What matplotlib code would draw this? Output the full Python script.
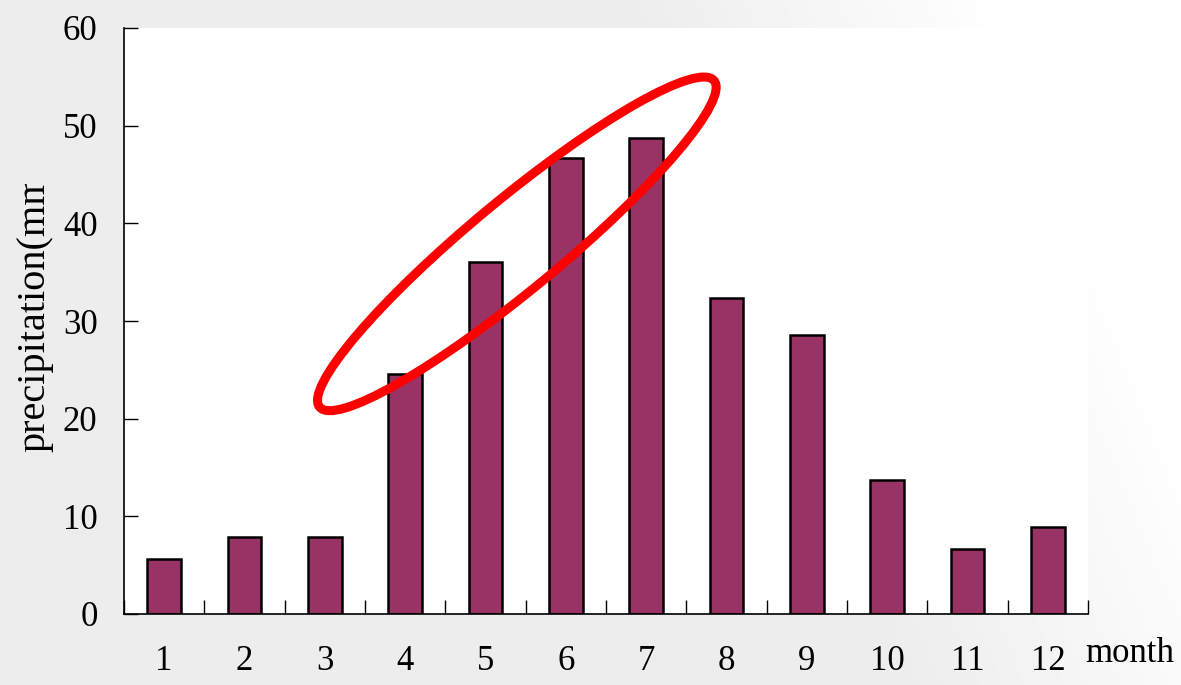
import numpy as np
import matplotlib
matplotlib.use("Agg")
import matplotlib.pyplot as plt
from matplotlib.patches import Ellipse
from matplotlib.transforms import ScaledTranslation, Bbox, TransformedBbox

# data
months = ["1", "2", "3", "4", "5", "6", "7", "8", "9", "10", "11", "12"]
precip = [5.6, 7.9, 7.9, 24.6, 36.0, 46.7, 48.7, 32.4, 28.6, 13.7, 6.7, 8.9]
yticks = [0, 10, 20, 30, 40, 50, 60]

plt.rcParams["font.family"] = ["Liberation Serif", "DejaVu Serif"]

fig = plt.figure(figsize=(11.81, 6.85), dpi=100)

# light grey slide-like background fading to white on the right
bg = fig.add_axes([0, 0, 1, 1], zorder=-10)
gx, gy = np.meshgrid(np.linspace(0, 1, 300), np.linspace(0, 1, 200))
grad = np.clip((gx * 1.05 - 0.25 * gy - 0.55) / 0.35, 0, 1)
bg.imshow(grad, cmap="gray", vmin=-12.5, vmax=1, extent=[0, 1, 0, 1],
          aspect="auto", origin="upper")
bg.axis("off")

ax = fig.add_axes([124 / 1181, 71 / 685, 964 / 1181, 586 / 685])
ax.set_facecolor("white")
x = np.arange(len(months))
ax.bar(x, precip, width=0.42, color="#993366", edgecolor="black", linewidth=1.8)

ax.set_xlim(-0.5, len(months) - 0.5)
ax.set_ylim(0, 60)
ax.set_yticks(yticks)
ax.set_xticks(x)
ax.set_xticklabels(months)
ax.set_xticks(np.arange(len(months) + 1) - 0.5, minor=True)
ax.tick_params(axis="x", which="major", length=0, pad=22, labelsize=25)
ax.tick_params(axis="x", which="minor", direction="in", length=10, width=1)
ax.tick_params(axis="y", direction="in", length=10, width=1, pad=19, labelsize=25)
ax.spines["top"].set_visible(False)
ax.spines["right"].set_visible(False)
for s in ("left", "bottom"):
    ax.spines[s].set_linewidth(1.2)

fig.text(1085 / 1181, 1 - 654 / 685, "month", fontsize=25, ha="left", va="center")

# y label cut off at the top, as in the original
yl = fig.text(35 / 1181, 1 - 452 / 685, "precipitation(mm)", fontsize=29,
              rotation=90, ha="center", va="bottom")
yl.set_clip_box(TransformedBbox(Bbox([[0, 0], [0.1, 1 - 184 / 685]]), fig.transFigure))
yl.set_clip_on(True)

# red highlight ellipse around the rising months
trans = fig.dpi_scale_trans + ScaledTranslation(4.39, 37.9, ax.transData)
ell = Ellipse((0, 0), width=5.12, height=0.9, angle=39.6, transform=trans,
              fill=False, edgecolor="red", linewidth=6.5, clip_on=False, zorder=5)
ax.add_patch(ell)

fig.savefig("out.png", dpi=100)
